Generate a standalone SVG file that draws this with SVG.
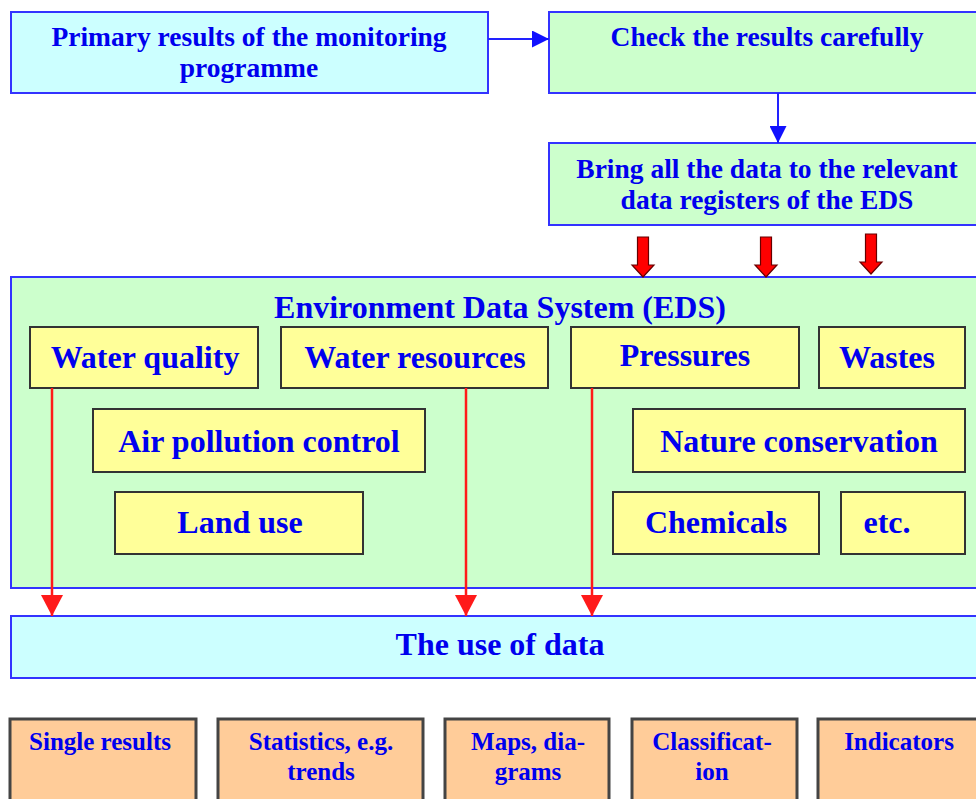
<svg xmlns="http://www.w3.org/2000/svg" xmlns:xlink="http://www.w3.org/1999/xlink" width="976" height="799" viewBox="0 0 976 799">
<style>
text{font-family:"Liberation Serif","Times New Roman",serif;font-weight:bold;fill:#0000EE;text-anchor:middle}
.t28{font-size:27.5px}
.t32{font-size:32px}
.t25{font-size:25px}
.cyan{fill:#CCFFFF;stroke:#3333FF;stroke-width:2}
.green{fill:#CCFFCC;stroke:#3333FF;stroke-width:2}
.yellow{fill:#FFFF99;stroke:#333333;stroke-width:2}
.orange{fill:#FFCC99;stroke:#444444;stroke-width:3}
.blue{stroke:#2222FF;stroke-width:2;fill:none}
.red{stroke:#FF1A1A;stroke-width:2.5;fill:none}
.block{fill:#FF0000;stroke:#660000;stroke-width:1.2}
</style>
<defs>
<marker id="ab" markerUnits="userSpaceOnUse" markerWidth="17" markerHeight="17" refX="17" refY="8.5" orient="auto"><path d="M0,0 L17,8.5 L0,17 Z" fill="#1111FF"/></marker>
<marker id="ar" markerUnits="userSpaceOnUse" markerWidth="21" markerHeight="22" refX="21" refY="11" orient="auto"><path d="M0,0 L21,11 L0,22 Z" fill="#FF1A1A"/></marker>
<path id="blk" class="block" d="M-5.5,-40 L5.5,-40 L5.5,-12 L11,-12 L0,0 L-11,-12 L-5.5,-12 Z"/>
</defs>

<g id="n-primary">
<rect class="cyan" x="11" y="12" width="477" height="81"/>
<text class="t28" x="249" y="46">Primary results of the monitoring</text>
<text class="t28" x="249" y="77">programme</text>
</g>
<g id="n-check">
<rect class="green" x="549" y="12" width="440" height="81"/>
<text class="t28" x="767" y="46">Check the results carefully</text>
</g>
<g id="n-bring">
<rect class="green" x="549" y="143" width="440" height="82"/>
<text class="t28" x="767" y="178">Bring all the data to the relevant</text>
<text class="t28" x="767" y="209">data registers of the EDS</text>
</g>

<g id="n-eds">
<rect class="green" x="11" y="277" width="978" height="311"/>
<text class="t32" x="500" y="318">Environment Data System (EDS)</text>
</g>
<g id="n-waterquality">
<rect class="yellow" x="30" y="327" width="228" height="61"/>
<text class="t32" x="145" y="368">Water quality</text>
</g>
<g id="n-waterresources">
<rect class="yellow" x="281" y="327" width="267" height="61"/>
<text class="t32" x="415" y="368">Water resources</text>
</g>
<g id="n-pressures">
<rect class="yellow" x="571" y="327" width="228" height="61"/>
<text class="t32" x="685" y="366">Pressures</text>
</g>
<g id="n-wastes">
<rect class="yellow" x="819" y="327" width="146" height="61"/>
<text class="t32" x="887" y="368">Wastes</text>
</g>
<g id="n-air">
<rect class="yellow" x="93" y="409" width="332" height="63"/>
<text class="t32" x="259" y="452">Air pollution control</text>
</g>
<g id="n-nature">
<rect class="yellow" x="633" y="409" width="332" height="63"/>
<text class="t32" x="799" y="452">Nature conservation</text>
</g>
<g id="n-landuse">
<rect class="yellow" x="115" y="492" width="248" height="62"/>
<text class="t32" x="240" y="533">Land use</text>
</g>
<g id="n-chemicals">
<rect class="yellow" x="613" y="492" width="206" height="62"/>
<text class="t32" x="716" y="533">Chemicals</text>
</g>
<g id="n-etc">
<rect class="yellow" x="841" y="492" width="124" height="62"/>
<text class="t32" x="887" y="533">etc.</text>
</g>

<g id="n-use">
<rect class="cyan" x="11" y="616" width="978" height="62"/>
<text class="t32" x="500" y="655">The use of data</text>
</g>

<g id="n-single">
<rect class="orange" x="10" y="719" width="186" height="90"/>
<text class="t25" x="100" y="750">Single results</text>
</g>
<g id="n-statistics">
<rect class="orange" x="218" y="719" width="205" height="90"/>
<text class="t25" x="321" y="750">Statistics, e.g.</text>
<text class="t25" x="321" y="780">trends</text>
</g>
<g id="n-maps">
<rect class="orange" x="445" y="719" width="164" height="90"/>
<text class="t25" x="528" y="750">Maps, dia-</text>
<text class="t25" x="528" y="780">grams</text>
</g>
<g id="n-classification">
<rect class="orange" x="632" y="719" width="165" height="90"/>
<text class="t25" x="712" y="750">Classificat-</text>
<text class="t25" x="712" y="780">ion</text>
</g>
<g id="n-indicators">
<rect class="orange" x="818" y="719" width="170" height="90"/>
<text class="t25" x="899" y="750">Indicators</text>
</g>

<g id="connectors">
<line class="blue" x1="488" y1="39" x2="549" y2="39" marker-end="url(#ab)"/>
<line class="blue" x1="778" y1="93" x2="778" y2="143" marker-end="url(#ab)"/>
<use xlink:href="#blk" transform="translate(643,277)"/>
<use xlink:href="#blk" transform="translate(766,277)"/>
<use xlink:href="#blk" transform="translate(871,274)"/>
<line class="red" x1="52" y1="388" x2="52" y2="616" marker-end="url(#ar)"/>
<line class="red" x1="466" y1="388" x2="466" y2="616" marker-end="url(#ar)"/>
<line class="red" x1="592" y1="388" x2="592" y2="616" marker-end="url(#ar)"/>
</g>
</svg>
